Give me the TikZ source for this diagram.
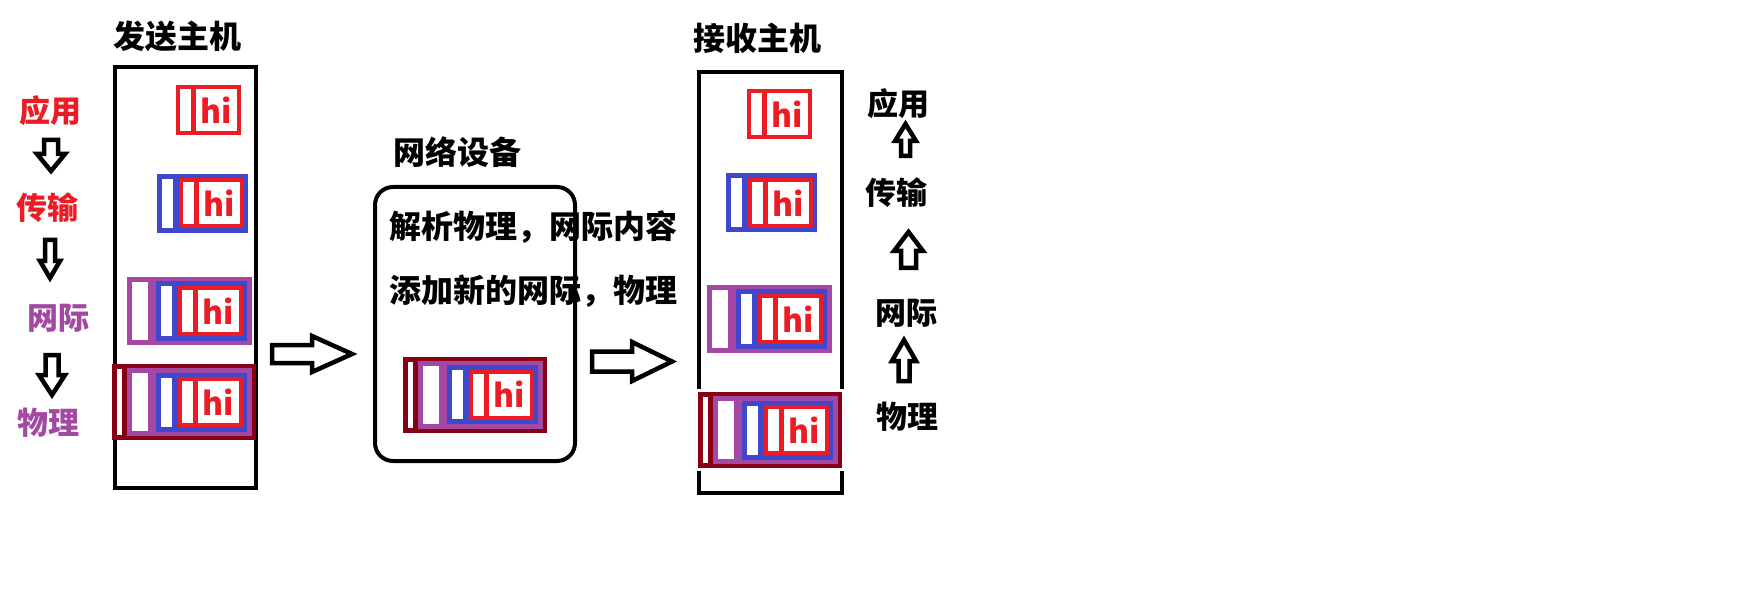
\documentclass[tikz,border=0pt]{standalone}
\usepackage{fontspec}
\setmainfont{Noto Sans CJK SC}

\definecolor{pktred}{HTML}{ED1C24}
\definecolor{pktblue}{HTML}{3F48CC}
\definecolor{pktpurple}{HTML}{A349A4}
\definecolor{pktdark}{HTML}{880015}

% packet layers: #1 name of the hi node, #2 right edge, #3 middle
\newcommand{\redlayer}[3]{%
    \fill[pktred] (#2-65,#3-25) rectangle (#2,#3+25);
    \fill[white] (#2-61,#3-21) rectangle (#2-50,#3+21);
    \fill[white] (#2-45,#3-21) rectangle (#2-4,#3+21);
    \node[hitext] (#1) at (#2-24.5,#3) {hi};}
\newcommand{\bluelayer}[3]{%
    \fill[pktblue] (#2-91,#3-29.5) rectangle (#2,#3+29.5);
    \fill[white] (#2-86,#3-24.5) rectangle (#2-75,#3+24.5);
    \redlayer{#1}{#2-4}{#3}}
\newcommand{\purplelayer}[3]{%
    \fill[pktpurple] (#2-125,#3-34) rectangle (#2,#3+34);
    \fill[white] (#2-120,#3-29) rectangle (#2-104,#3+29);
    \bluelayer{#1}{#2-5}{#3}}
\newcommand{\darkredlayer}[3]{%
    \fill[pktdark] (#2-144,#3-38) rectangle (#2,#3+38);
    \fill[white] (#2-139,#3-33) rectangle (#2-134,#3+33);
    \purplelayer{#1}{#2-4}{#3}}

% hollow arrow: tail x, tail y, angle, length, half head, half shaft, head length
\newcommand{\hollowarrow}[7]{%
    \draw[arrowline,shift={(#1,#2)},rotate=#3]
        (0,-#6) -- (#4-#7,-#6) -- (#4-#7,-#5) -- (#4,0)
        -- (#4-#7,#5) -- (#4-#7,#6) -- (0,#6) -- cycle;}

\begin{document}
\begin{tikzpicture}[x=0.5pt,y=-0.5pt,
    hosttitle/.style={font=\bfseries\fontsize{16}{16}\selectfont,inner sep=0pt},
    layername/.style={font=\bfseries\fontsize{15.5}{15.5}\selectfont,inner sep=0pt},
    hitext/.style={text=pktred,font=\bfseries\fontsize{16}{16}\selectfont,inner sep=0pt},
    hostbox/.style={draw,line width=2.2pt,inner sep=0pt},
    arrowline/.style={draw,fill=white,line width=2.25pt,line join=miter}
]
    \useasboundingbox (0,0) rectangle (1756,604);

    % hosts and device
    \node[hostbox,minimum width=70.25pt,minimum height=210.25pt] (sendhost) at (185.5,277.5) {};
    \node[hostbox,minimum width=71.5pt,minimum height=210.5pt] (recvhost) at (770.5,282.5) {};
    \node[hostbox,line width=2pt,rounded corners=9pt,minimum width=100pt,minimum height=137pt] (device) at (475,324) {};

    % titles
    \node[hosttitle] (sendtitle) at (177,36) {发送主机};
    \node[hosttitle] (recvtitle) at (757,38) {接收主机};
    \node[hosttitle] (devtitle) at (457,152) {网络设备};
    \node[hosttitle] (devline1) at (533,227) {解析物理，网际内容};
    \node[hosttitle] (devline2) at (533,291) {添加新的网际，物理};

    % sender layers
    \node[layername,text=pktred] (sapp) at (50,111) {应用};
    \node[layername,text=pktred] (strans) at (48,208) {传输};
    \node[layername,text=pktpurple] (snet) at (58,318) {网际};
    \node[layername,text=pktpurple] (sphys) at (49,423) {物理};
    \hollowarrow{51}{140}{-90}{31}{14}{7}{17}
    \hollowarrow{50}{240}{-90}{38}{10}{5}{17}
    \hollowarrow{52}{355}{-90}{40}{13}{6.5}{20}

    % receiver layers
    \node[layername] (rapp) at (898,104) {应用};
    \node[layername] (rtrans) at (896,193) {传输};
    \node[layername] (rnet) at (906,313) {网际};
    \node[layername] (rphys) at (907,417) {物理};
    \hollowarrow{905.5}{156}{90}{32}{10.5}{4.5}{17}
    \hollowarrow{908.5}{268}{90}{36}{14.5}{7.5}{19}
    \hollowarrow{904}{381}{90}{41}{12}{5.5}{21}

    % transfer arrows
    \hollowarrow{272}{354}{0}{80}{18}{9}{40}
    \hollowarrow{592}{361.5}{0}{80}{19.5}{10}{40}

    % packets in the sender
    \redlayer{shi1}{241}{110}
    \bluelayer{shi2}{248}{203.5}
    \purplelayer{shi3}{252}{311}
    \darkredlayer{shi4}{256}{402}

    % packet in the device
    \darkredlayer{dhi}{547}{394.5}

    % packets in the receiver
    \redlayer{rhi1}{812}{114.5}
    \bluelayer{rhi2}{817}{203}
    \purplelayer{rhi3}{832}{319}
    \fill[white] (695,389) rectangle (846,471);
    \darkredlayer{rhi4}{842}{430}
\end{tikzpicture}
\end{document}
